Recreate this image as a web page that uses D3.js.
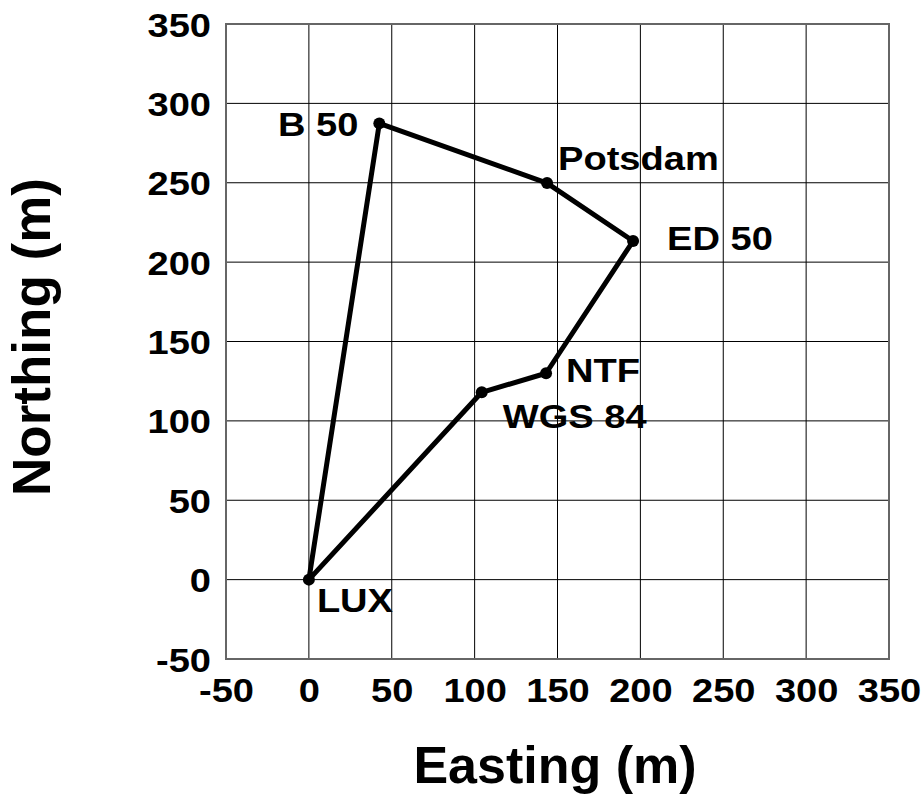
<!DOCTYPE html>
<html>
<head>
<meta charset="utf-8">
<script src="https://cdn.jsdelivr.net/npm/d3@7"></script>
<style>
  html, body { margin: 0; padding: 0; background: #fff; }
  svg { display: block; }
  text { font-family: "Liberation Sans", Arial, sans-serif; font-weight: bold; fill: #000; }
</style>
</head>
<body>
<svg id="chart" width="924" height="795"></svg>
<script>
// ---- data ----
const xTickValues = [-50, 0, 50, 100, 150, 200, 250, 300, 350];
const yTickValues = [-50, 0, 50, 100, 150, 200, 250, 300, 350];
const datumNames = ["LUX", "B 50", "Potsdam", "ED 50", "NTF", "WGS 84"];
const easting  = [0, 42.5, 143.7, 195.6, 143.1, 104.3];
const northing = [0, 287.4, 249.8, 213.3, 130, 118];
const xTitle = "Easting (m)";
const yTitle = "Northing (m)";

// ---- layout (label offsets in px, anchor) ----
const labelLayout = {
  "LUX":     { dx: 8,   dy: 32, anchor: "start" },
  "B 50":    { dx: -21, dy: 13, anchor: "end" },
  "Potsdam": { dx: 11,  dy: -13, anchor: "start" },
  "ED 50":   { dx: 34,  dy: 9,  anchor: "start" },
  "NTF":     { dx: 20,  dy: 9,  anchor: "start" },
  "WGS 84":  { dx: 21,  dy: 36, anchor: "start" }
};
const stretch = 1.12;
const labelFont = 34;
const fmt = d => String(d);

const svg = d3.select("#chart");
const x = d3.scaleLinear().domain([-50, 350]).range([226, 889]);
const y = d3.scaleLinear().domain([-50, 350]).range([659, 24]);

// grid
const grid = svg.append("g");
grid.selectAll("line.v").data(xTickValues.slice(1, -1)).enter().append("line")
  .attr("x1", d => x(d)).attr("x2", d => x(d))
  .attr("y1", y(350)).attr("y2", y(-50))
  .attr("stroke", "#000").attr("stroke-width", 1);
grid.selectAll("line.h").data(yTickValues.slice(1, -1)).enter().append("line")
  .attr("y1", d => y(d)).attr("y2", d => y(d))
  .attr("x1", x(-50)).attr("x2", x(350))
  .attr("stroke", "#000").attr("stroke-width", 1);
svg.append("rect")
  .attr("x", x(-50)).attr("y", y(350))
  .attr("width", x(350) - x(-50)).attr("height", y(-50) - y(350))
  .attr("fill", "none").attr("stroke", "#666").attr("stroke-width", 2);

// axes
const xAxis = svg.append("g").attr("transform", `translate(0,${y(-50)})`)
  .call(d3.axisBottom(x).tickValues(xTickValues).tickSize(0).tickFormat(fmt));
xAxis.select(".domain").remove();
xAxis.selectAll("text")
  .attr("y", 43).attr("dy", 0)
  .attr("transform", `scale(${stretch},1)`)
  .style("font-size", labelFont + "px")
  .style("font-family", '"Liberation Sans", Arial, sans-serif')
  .style("font-weight", "bold");

const yAxis = svg.append("g").attr("transform", `translate(${x(-50)},0)`)
  .call(d3.axisLeft(y).tickValues(yTickValues).tickSize(0).tickFormat(fmt));
yAxis.select(".domain").remove();
yAxis.selectAll("text")
  .attr("x", -15 / stretch).attr("dy", 12)
  .attr("text-anchor", "end")
  .attr("transform", `scale(${stretch},1)`)
  .style("font-size", labelFont + "px")
  .style("font-family", '"Liberation Sans", Arial, sans-serif')
  .style("font-weight", "bold");

// polygon path
const pts = datumNames.map((n, i) => ({ name: n, e: easting[i], n: northing[i] }));
const line = d3.line().x(d => x(d.e)).y(d => y(d.n));
svg.append("path")
  .datum(pts.concat([pts[0]]))
  .attr("d", line)
  .attr("fill", "none").attr("stroke", "#000")
  .attr("stroke-width", 5).attr("stroke-linejoin", "round");

svg.selectAll("circle.pt").data(pts).enter().append("circle")
  .attr("cx", d => x(d.e)).attr("cy", d => y(d.n)).attr("r", 6).attr("fill", "#000");

// labels
svg.selectAll("g.lbl").data(pts).enter().append("g")
  .attr("transform", d => `translate(${x(d.e) + labelLayout[d.name].dx},${y(d.n) + labelLayout[d.name].dy})`)
  .append("text")
  .attr("transform", `scale(${stretch},1)`)
  .attr("text-anchor", d => labelLayout[d.name].anchor)
  .style("font-size", labelFont + "px")
  .text(d => d.name);

// titles
svg.append("text")
  .attr("x", 555).attr("y", 783)
  .attr("text-anchor", "middle")
  .style("font-size", "52px")
  .text(xTitle);
svg.append("text")
  .attr("transform", "translate(50,337) rotate(-90)")
  .attr("text-anchor", "middle")
  .style("font-size", "53px")
  .text(yTitle);
</script>
</body>
</html>
